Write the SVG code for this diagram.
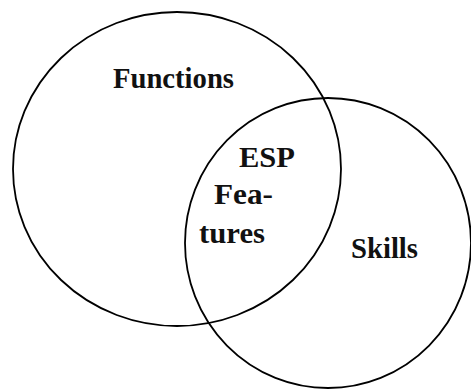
<svg xmlns="http://www.w3.org/2000/svg" width="471" height="390" viewBox="0 0 471 390">
<style>
.c{fill:none;stroke:#000;stroke-width:1.8}
.t{font-family:"Liberation Serif",serif;font-weight:bold;font-size:29px;fill:#111}
</style>
<rect width="471" height="390" fill="#fff"/>
<g id="functions">
<ellipse class="c" cx="177" cy="169" rx="164" ry="157"/>
<text class="t" x="113" y="88" textLength="121" lengthAdjust="spacingAndGlyphs">Functions</text>
</g>
<g id="skills">
<ellipse class="c" cx="328" cy="243" rx="143" ry="145"/>
<text class="t" x="351" y="258" textLength="67" lengthAdjust="spacingAndGlyphs">Skills</text>
</g>
<g id="esp">
<text class="t" x="239" y="167" textLength="56" lengthAdjust="spacingAndGlyphs">ESP</text>
<text class="t" x="214" y="204" textLength="59" lengthAdjust="spacingAndGlyphs">Fea-</text>
<text class="t" x="199" y="243" textLength="66" lengthAdjust="spacingAndGlyphs">tures</text>
</g>
<g id="connectors"></g>
</svg>
